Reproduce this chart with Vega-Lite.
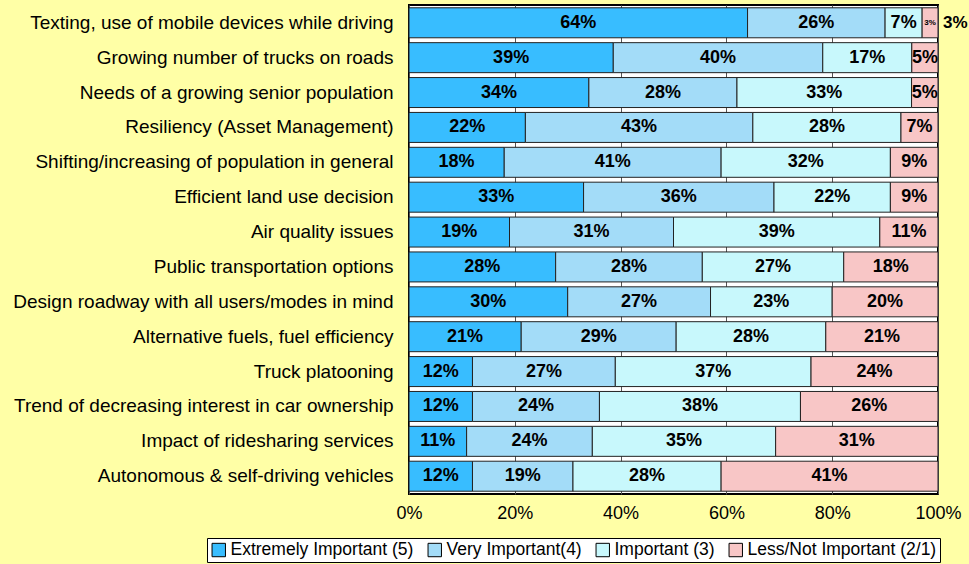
{
  "$schema": "https://vega.github.io/schema/vega-lite/v6.json",
  "autosize": {"type": "none"},
  "width": 529,
  "height": 489,
  "padding": {"left": 409, "top": 5, "right": 31, "bottom": 70},
  "background": "#FFFFA6",
  "view": {"fill": "white", "stroke": "black", "strokeWidth": 2},
  "config": {"font": "Liberation Sans"},
  "data": {"values": [
    {"issue": "Texting, use of mobile devices while driving", "level": "Extremely Important (5)", "score": 5, "pct": 64},
    {"issue": "Texting, use of mobile devices while driving", "level": "Very Important(4)", "score": 4, "pct": 26},
    {"issue": "Texting, use of mobile devices while driving", "level": "Important (3)", "score": 3, "pct": 7},
    {"issue": "Texting, use of mobile devices while driving", "level": "Less/Not Important (2/1)", "score": 2, "pct": 3},
    {"issue": "Growing number of trucks on roads", "level": "Extremely Important (5)", "score": 5, "pct": 39},
    {"issue": "Growing number of trucks on roads", "level": "Very Important(4)", "score": 4, "pct": 40},
    {"issue": "Growing number of trucks on roads", "level": "Important (3)", "score": 3, "pct": 17},
    {"issue": "Growing number of trucks on roads", "level": "Less/Not Important (2/1)", "score": 2, "pct": 5},
    {"issue": "Needs of a growing senior population", "level": "Extremely Important (5)", "score": 5, "pct": 34},
    {"issue": "Needs of a growing senior population", "level": "Very Important(4)", "score": 4, "pct": 28},
    {"issue": "Needs of a growing senior population", "level": "Important (3)", "score": 3, "pct": 33},
    {"issue": "Needs of a growing senior population", "level": "Less/Not Important (2/1)", "score": 2, "pct": 5},
    {"issue": "Resiliency (Asset Management)", "level": "Extremely Important (5)", "score": 5, "pct": 22},
    {"issue": "Resiliency (Asset Management)", "level": "Very Important(4)", "score": 4, "pct": 43},
    {"issue": "Resiliency (Asset Management)", "level": "Important (3)", "score": 3, "pct": 28},
    {"issue": "Resiliency (Asset Management)", "level": "Less/Not Important (2/1)", "score": 2, "pct": 7},
    {"issue": "Shifting/increasing of population in general", "level": "Extremely Important (5)", "score": 5, "pct": 18},
    {"issue": "Shifting/increasing of population in general", "level": "Very Important(4)", "score": 4, "pct": 41},
    {"issue": "Shifting/increasing of population in general", "level": "Important (3)", "score": 3, "pct": 32},
    {"issue": "Shifting/increasing of population in general", "level": "Less/Not Important (2/1)", "score": 2, "pct": 9},
    {"issue": "Efficient land use decision", "level": "Extremely Important (5)", "score": 5, "pct": 33},
    {"issue": "Efficient land use decision", "level": "Very Important(4)", "score": 4, "pct": 36},
    {"issue": "Efficient land use decision", "level": "Important (3)", "score": 3, "pct": 22},
    {"issue": "Efficient land use decision", "level": "Less/Not Important (2/1)", "score": 2, "pct": 9},
    {"issue": "Air quality issues", "level": "Extremely Important (5)", "score": 5, "pct": 19},
    {"issue": "Air quality issues", "level": "Very Important(4)", "score": 4, "pct": 31},
    {"issue": "Air quality issues", "level": "Important (3)", "score": 3, "pct": 39},
    {"issue": "Air quality issues", "level": "Less/Not Important (2/1)", "score": 2, "pct": 11},
    {"issue": "Public transportation options", "level": "Extremely Important (5)", "score": 5, "pct": 28},
    {"issue": "Public transportation options", "level": "Very Important(4)", "score": 4, "pct": 28},
    {"issue": "Public transportation options", "level": "Important (3)", "score": 3, "pct": 27},
    {"issue": "Public transportation options", "level": "Less/Not Important (2/1)", "score": 2, "pct": 18},
    {"issue": "Design roadway with all users/modes in mind", "level": "Extremely Important (5)", "score": 5, "pct": 30},
    {"issue": "Design roadway with all users/modes in mind", "level": "Very Important(4)", "score": 4, "pct": 27},
    {"issue": "Design roadway with all users/modes in mind", "level": "Important (3)", "score": 3, "pct": 23},
    {"issue": "Design roadway with all users/modes in mind", "level": "Less/Not Important (2/1)", "score": 2, "pct": 20},
    {"issue": "Alternative fuels, fuel efficiency", "level": "Extremely Important (5)", "score": 5, "pct": 21},
    {"issue": "Alternative fuels, fuel efficiency", "level": "Very Important(4)", "score": 4, "pct": 29},
    {"issue": "Alternative fuels, fuel efficiency", "level": "Important (3)", "score": 3, "pct": 28},
    {"issue": "Alternative fuels, fuel efficiency", "level": "Less/Not Important (2/1)", "score": 2, "pct": 21},
    {"issue": "Truck platooning", "level": "Extremely Important (5)", "score": 5, "pct": 12},
    {"issue": "Truck platooning", "level": "Very Important(4)", "score": 4, "pct": 27},
    {"issue": "Truck platooning", "level": "Important (3)", "score": 3, "pct": 37},
    {"issue": "Truck platooning", "level": "Less/Not Important (2/1)", "score": 2, "pct": 24},
    {"issue": "Trend of decreasing interest in car ownership", "level": "Extremely Important (5)", "score": 5, "pct": 12},
    {"issue": "Trend of decreasing interest in car ownership", "level": "Very Important(4)", "score": 4, "pct": 24},
    {"issue": "Trend of decreasing interest in car ownership", "level": "Important (3)", "score": 3, "pct": 38},
    {"issue": "Trend of decreasing interest in car ownership", "level": "Less/Not Important (2/1)", "score": 2, "pct": 26},
    {"issue": "Impact of ridesharing services", "level": "Extremely Important (5)", "score": 5, "pct": 11},
    {"issue": "Impact of ridesharing services", "level": "Very Important(4)", "score": 4, "pct": 24},
    {"issue": "Impact of ridesharing services", "level": "Important (3)", "score": 3, "pct": 35},
    {"issue": "Impact of ridesharing services", "level": "Less/Not Important (2/1)", "score": 2, "pct": 31},
    {"issue": "Autonomous & self-driving vehicles", "level": "Extremely Important (5)", "score": 5, "pct": 12},
    {"issue": "Autonomous & self-driving vehicles", "level": "Very Important(4)", "score": 4, "pct": 19},
    {"issue": "Autonomous & self-driving vehicles", "level": "Important (3)", "score": 3, "pct": 28},
    {"issue": "Autonomous & self-driving vehicles", "level": "Less/Not Important (2/1)", "score": 2, "pct": 41}
  ]},
  "transform": [
    {"stack": "pct", "groupby": ["issue"], "sort": [{"field": "score", "order": "descending"}], "offset": "normalize", "as": ["x0", "x1"]},
    {"calculate": "(datum.x0 + datum.x1) / 2", "as": "xm"},
    {"calculate": "datum.pct + '%'", "as": "label"}
  ],
  "encoding": {
    "y": {
      "field": "issue", "type": "nominal", "sort": null, "title": null,
      "scale": {"paddingInner": 0.14, "paddingOuter": 0.08},
      "axis": {"domain": false, "ticks": false, "labelFontSize": 19, "labelColor": "black", "labelPadding": 16, "labelLimit": 450, "labelFont": "Liberation Sans"}
    }
  },
  "layer": [
    {
      "mark": {"type": "bar", "stroke": "#222222", "strokeWidth": 1},
      "encoding": {
        "x": {
          "field": "x0", "type": "quantitative", "title": null,
          "scale": {"domain": [0, 1], "nice": false},
          "axis": {"format": ".0%", "values": [0, 0.2, 0.4, 0.6, 0.8, 1], "domain": false, "ticks": false, "grid": true, "gridColor": "#555555", "gridWidth": 1, "labelFontSize": 18, "labelColor": "black", "labelPadding": 10, "labelFont": "Liberation Sans", "labelFlush": false}
        },
        "x2": {"field": "x1"},
        "color": {
          "field": "level", "type": "nominal",
          "scale": {
            "domain": ["Extremely Important (5)", "Very Important(4)", "Important (3)", "Less/Not Important (2/1)"],
            "range": ["#38BDFF", "#A3DCF8", "#C8F8FC", "#F8C6C6"]
          },
          "legend": {
            "title": null, "orient": "none", "legendX": -202, "legendY": 533,
            "direction": "horizontal", "columns": 4, "padding": 3,
            "strokeColor": "black", "fillColor": "white",
            "labelFontSize": 17.5, "labelColor": "black", "labelFont": "Liberation Sans", "labelLimit": 400,
            "symbolType": "square", "symbolSize": 180, "symbolStrokeColor": "black", "symbolStrokeWidth": 1, "symbolOpacity": 1,
            "columnPadding": 12, "labelOffset": 3
          }
        }
      }
    },
    {
      "mark": {"type": "text", "fontWeight": "bold", "color": "black", "font": "Liberation Sans"},
      "encoding": {
        "x": {"field": "xm", "type": "quantitative"},
        "text": {"field": "label", "type": "nominal"},
        "size": {"condition": {"test": "datum.pct < 4", "value": 8}, "value": 18}
      }
    },
    {
      "transform": [{"filter": "datum.pct < 4"}],
      "mark": {"type": "text", "fontWeight": "bold", "color": "black", "font": "Liberation Sans", "align": "left", "dx": 5, "fontSize": 17},
      "encoding": {
        "x": {"field": "x1", "type": "quantitative"},
        "text": {"field": "label", "type": "nominal"}
      }
    }
  ]
}
